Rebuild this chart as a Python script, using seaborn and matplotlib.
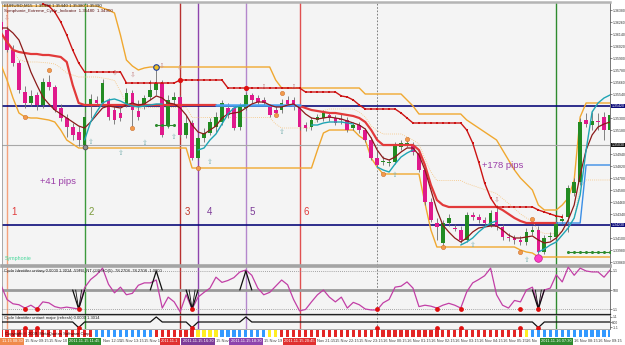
import numpy as np
import pandas as pd
import matplotlib
matplotlib.use("Agg")
import matplotlib.pyplot as plt
from matplotlib.transforms import blended_transform_factory
import seaborn as sns

sns.set_theme(style="white")
plt.rcParams['font.family'] = ['Liberation Sans', 'DejaVu Sans']

NA = np.nan
bars = list(range(-1, 102))

open_ = [1.3626, 1.3618, 1.3598, 1.3585, 1.3556, 1.3545, 1.3553, 1.3543, 1.3566, 1.3561,
         1.3540, 1.3530, 1.3521, 1.3516, 1.3503, 1.3542, 1.3548, 1.3545, 1.3548, 1.3538,
         1.3535, 1.3544, 1.3555, 1.3537, 1.3543, 1.3551, 1.3558, 1.3565, 1.3523, 1.3548,
         1.3551, 1.3513, 1.3525, 1.3490, 1.3510, 1.3515, 1.3521, 1.3526, 1.3540, 1.3540,
         1.3521, 1.3540, 1.3553, 1.3550, 1.3548, 1.3541, 1.3538, 1.3538, 1.3548, 1.3548,
         1.3541, 1.3523, 1.3521, 1.3528, 1.3530, 1.3533, 1.3530, 1.3529, 1.3528, 1.3520,
         1.3523, 1.3518, 1.3508, 1.3490, 1.3486, 1.3485, 1.3486, 1.3501, 1.3503, 1.3503,
         1.3495, 1.3478, 1.3446, 1.3425, 1.3405, 1.3425, 1.3420, 1.3418, 1.3408, 1.3433,
         1.3431, 1.3428, 1.3423, 1.3436, 1.3421, 1.3411, 1.3410, 1.3408, 1.3406, 1.3416,
         1.3418, 1.3396, 1.3411, 1.3411, 1.3427, 1.3431, 1.3455, 1.3466, 1.3528, 1.3523,
         1.3527, 1.3531, 1.3518]
close = [1.3618, 1.3598, 1.3585, 1.3558, 1.3545, 1.3552, 1.3543, 1.3566, 1.3561, 1.3538,
         1.3530, 1.3521, 1.3513, 1.3508, 1.3531, 1.3549, 1.3545, 1.3565, 1.3531, 1.3528,
         1.3530, 1.3555, 1.3538, 1.3531, 1.3550, 1.3558, 1.3565, 1.3513, 1.3548, 1.3551,
         1.3513, 1.3525, 1.3490, 1.3510, 1.3515, 1.3526, 1.3531, 1.3545, 1.3533, 1.3520,
         1.3541, 1.3553, 1.3548, 1.3546, 1.3545, 1.3533, 1.3535, 1.3545, 1.3544, 1.3541,
         1.3521, 1.3520, 1.3528, 1.3531, 1.3535, 1.3530, 1.3525, 1.3528, 1.3518, 1.3523,
         1.3518, 1.3508, 1.3490, 1.3483, 1.3487, 1.3486, 1.3503, 1.3505, 1.3505, 1.3496,
         1.3478, 1.3446, 1.3428, 1.3421, 1.3425, 1.3430, 1.3419, 1.3408, 1.3433, 1.3431,
         1.3428, 1.3425, 1.3435, 1.3421, 1.3411, 1.3410, 1.3408, 1.3406, 1.3416, 1.3418,
         1.3396, 1.3410, 1.3412, 1.3426, 1.3429, 1.3460, 1.3466, 1.3526, 1.3524, 1.3527,
         1.3526, 1.3518, 1.3533]
high = [1.3635, 1.3622, 1.3603, 1.3588, 1.3562, 1.3558, 1.3556, 1.3570, 1.3573, 1.3563,
        1.3544, 1.3534, 1.3525, 1.3522, 1.3536, 1.3554, 1.3552, 1.3569, 1.3550, 1.3542,
        1.3540, 1.3560, 1.3558, 1.3548, 1.3553, 1.3568, 1.3580, 1.3568, 1.3553, 1.3556,
        1.3553, 1.3533, 1.3528, 1.3513, 1.3520, 1.3530, 1.3536, 1.3548, 1.3545, 1.3543,
        1.3545, 1.3556, 1.3555, 1.3553, 1.3551, 1.3544, 1.3542, 1.3549, 1.3552, 1.3551,
        1.3544, 1.3526, 1.3531, 1.3534, 1.3538, 1.3536, 1.3533, 1.3534, 1.3531, 1.3526,
        1.3526, 1.3520, 1.3511, 1.3498, 1.3492, 1.3489, 1.3506, 1.3508, 1.3508, 1.3506,
        1.3498, 1.3480, 1.3450, 1.3430, 1.3428, 1.3434, 1.3424, 1.3422, 1.3436, 1.3436,
        1.3434, 1.3431, 1.3438, 1.3443, 1.3424, 1.3415, 1.3413, 1.3412, 1.3420, 1.3422,
        1.3422, 1.3413, 1.3416, 1.3430, 1.3434, 1.3463, 1.3470, 1.3530, 1.3535, 1.3536,
        1.3535, 1.3536, 1.3538]
low = [1.3616, 1.3596, 1.3582, 1.3555, 1.3540, 1.3542, 1.3538, 1.3540, 1.3558, 1.3536,
       1.3527, 1.3511, 1.3508, 1.3502, 1.3500, 1.3530, 1.3542, 1.3542, 1.3528, 1.3524,
       1.3527, 1.3541, 1.3522, 1.3528, 1.3539, 1.3548, 1.3553, 1.3511, 1.3520, 1.3544,
       1.3511, 1.3510, 1.3488, 1.3488, 1.3506, 1.3513, 1.3516, 1.3523, 1.3530, 1.3518,
       1.3518, 1.3538, 1.3545, 1.3544, 1.3542, 1.3531, 1.3532, 1.3535, 1.3542, 1.3538,
       1.3518, 1.3517, 1.3518, 1.3526, 1.3527, 1.3527, 1.3523, 1.3524, 1.3516, 1.3518,
       1.3515, 1.3506, 1.3488, 1.3481, 1.3483, 1.3482, 1.3484, 1.3498, 1.3501, 1.3493,
       1.3476, 1.3443, 1.3426, 1.3408, 1.3401, 1.3422, 1.3417, 1.3405, 1.3406, 1.3428,
       1.3425, 1.3422, 1.3421, 1.3418, 1.3408, 1.3407, 1.3404, 1.3403, 1.3403, 1.3413,
       1.3394, 1.3394, 1.3408, 1.3408, 1.3424, 1.3416, 1.3452, 1.3463, 1.3521, 1.3518,
       1.3518, 1.3508, 1.3515]

upper_band = ([1.3642] * 17 + [1.3640, 1.3638, 1.3635, 1.3613, 1.3588, 1.3582, 1.3578, 1.3580]
              + [1.3581] * 21 + [1.3568] + [1.3560] * 14 + [1.3554] * 7 + [1.3548, 1.3542]
              + [1.3534] * 8
              + [1.3528, 1.3524, 1.3520, 1.3516, 1.3512, 1.3508, 1.3498, 1.3488, 1.3478, 1.3470,
                 1.3464, 1.3458, 1.3443, 1.3438, 1.3438, 1.3438, 1.3443, 1.3450, 1.3468, 1.3531]
              + [1.3545] * 5)
lower_band = ([1.3583, 1.3568, 1.3550, 1.3535, 1.3531, 1.3530, 1.3530, 1.3529, 1.3528, 1.3526,
               1.3518, 1.3508, 1.3504] + [1.3500] * 19 + [1.3480] * 21 + [1.3498, 1.3515]
              + [1.3518] * 5 + [1.3512, 1.3508, 1.3490, 1.3481] + [1.3474] * 7 + [1.3445, 1.3418]
              + [1.3401] * 14 + [1.3398, 1.3396, 1.3395] + [1.3391] * 13)
red_stop = ([NA] * 7 + [1.3644, 1.3642, 1.3636, 1.3626, 1.3613, 1.3598, 1.3585] + [1.3576] * 7
            + [1.3565] * 9 + [1.3568] * 8 + [1.3560] * 13 + [1.3556] * 6
            + [1.3552, 1.3551, 1.3548, 1.3543] + [1.3539] * 6 + [1.3535, 1.3530] + [1.3525] * 9
            + [1.3518, 1.3505, 1.3486, 1.3465, 1.3450] + [1.3441] * 7
            + [1.3438, 1.3436, 1.3434, 1.3432, 1.3431] + [NA] * 8)
symph_red = ([1.3615, 1.3606, 1.3598, 1.3596, 1.3595, 1.3594, 1.3594, 1.3593, 1.3593, 1.3592,
              1.3591, 1.3586, 1.3563, 1.3545] + [1.3543] * 23 + [NA] * 13
             + [1.3542, 1.3540, 1.3538, 1.3537, 1.3536, 1.3535, 1.3535, 1.3534, 1.3533, 1.3532,
                1.3530, 1.3526, 1.3518, 1.3508] + [1.3503] * 6
             + [1.3498, 1.3483, 1.3463, 1.3448, 1.3443] + [1.3441] * 9
             + [1.3438, 1.3434, 1.3430, 1.3427] + [1.3425] * 6 + [NA] * 9)
symph_blue = [NA] * 36 + [1.3543] * 15 + [NA] * 52
blue_right = [NA] * 93 + [1.3425] * 5 + [1.3483] * 5
maroon_ma = [1.3620, 1.3620, 1.3615, 1.3608, 1.3593, 1.3576, 1.3563, 1.3551, 1.3544, 1.3538,
             1.3534, 1.3530, 1.3526, 1.3522, 1.3520, 1.3526, 1.3533, 1.3540, 1.3542, 1.3541,
             1.3540, 1.3543, 1.3545, 1.3543, 1.3544, 1.3548, 1.3552, 1.3550, 1.3545, 1.3544,
             1.3540, 1.3533, 1.3523, 1.3516, 1.3514, 1.3518, 1.3522, 1.3530, 1.3534, 1.3535,
             1.3536, 1.3540, 1.3544, 1.3546, 1.3546, 1.3543, 1.3541, 1.3541, 1.3543, 1.3544,
             1.3540, 1.3534, 1.3530, 1.3529, 1.3530, 1.3531, 1.3530, 1.3529, 1.3527, 1.3525,
             1.3523, 1.3519, 1.3510, 1.3498, 1.3490, 1.3488, 1.3491, 1.3496, 1.3500, 1.3500,
             1.3493, 1.3478, 1.3458, 1.3438, 1.3423, 1.3416, 1.3410, 1.3406, 1.3410, 1.3416,
             1.3420, 1.3421, 1.3422, 1.3422, 1.3418, 1.3413, 1.3410, 1.3410, 1.3411, 1.3412,
             1.3408, 1.3405, 1.3406, 1.3410, 1.3417, 1.3428, 1.3443, 1.3473, 1.3498, 1.3513,
             1.3521, 1.3524, 1.3526]
cyan_line = ([NA] * 14
             + [1.3508, 1.3526, 1.3536, 1.3545, 1.3548, 1.3549, 1.3547, 1.3544, 1.3542, 1.3541,
                1.3542, 1.3543, 1.3544, 1.3544]
             + [NA] * 5
             + [1.3498, 1.3500, 1.3508, 1.3514, 1.3524, 1.3534, 1.3540, 1.3542, 1.3543]
             + [NA] * 10
             + [1.3523, 1.3523, 1.3525, 1.3526, 1.3526, 1.3526, 1.3525, 1.3524]
             + [NA] * 3
             + [1.3481, 1.3478, 1.3476, 1.3484, 1.3491, 1.3495, 1.3498]
             + [NA] * 7
             + [1.3403, 1.3406, 1.3410, 1.3416, 1.3421, 1.3425, 1.3427]
             + [NA] * 6
             + [1.3396, 1.3399, 1.3403, 1.3406, 1.3413, 1.3420, 1.3430, 1.3453, 1.3498, 1.3536,
                1.3545, 1.3550, 1.3553])

oscillator = [60, 30, 21, 19, 12, 18, 10, 25, 23, 15,
              12, 14, 12, 10, 55, 72, 82, 96, 62, 44,
              56, 40, 43, 60, 65, 65, 71, 12, 35, 25,
              4, 40, 10, 35, 45, 54, 77, 66, 70, 76,
              88, 92, 81, 54, 40, 45, 58, 71, 61, 30,
              6, 9, 25, 40, 50, 35, 25, 35, 12, 24,
              19, 10, 8, 8, 23, 30, 56, 58, 67, 54,
              15, 18, 16, 12, 18, 22, 18, 12, 46, 65,
              72, 80, 96, 40, 18, 12, 28, 25, 50, 56,
              14, 50, 54, 82, 67, 98, 81, 96, 90, 88,
              88, 77, 92]
signal_dot_bars = [3, 5, 12, 31, 62, 72, 76, 86, 89]
peak_bars = [25, 40]
dip_bars = [12, 31, 89]

strip_colors = ("r" * 16 + "b" * 10 + "r" * 7 + "y" * 4 + "b" * 8 + "y" * 2
                + "r" * 41 + "y" + "b" * 14)

event_bars = [0, 13, 29, 32, 40, 49, 92]
# labels as they remain visible (first one clipped by the left edge, third one covered by the fourth)
event_labels = ["11.15 08:30", "2011.11.15 11:45", "2011.11.1", "2011.11.15 16:30",
                "2011.11.15 18:30", "2011.11.15 20:45", "2011.11.16 07:30"]
event_numbers = ["1", "2", "3", "4", "5", "6", ""]
day_sep_bar = 62

# time labels as they remain visible between the highlighted event boxes
time_ticks = [3, 7, 16, 19, 23, 35, 43, 52, 55, 59, 63, 67, 71, 75, 79, 83, 87, 95, 99]
time_labels = ["15 Nov 09:15", "15 Nov 10", "Nov 12:15", "15 Nov 13:15", "15 Nov 1",
               "15 Nov", "15 Nov 19", "Nov 21:15", "15 Nov 22:15", "15 Nov 23:15",
               "16 Nov 00:15", "16 Nov 01:15", "16 Nov 02:15", "16 Nov 03:15", "16 Nov 04:15",
               "16 Nov 05:15", "16 No", "16 Nov 08:15", "16 Nov 09:15"]
price_ticks = [1.3638, 1.3626, 1.3614, 1.3602, 1.3590, 1.3578, 1.3566, 1.3554, 1.3530, 1.3518,
               1.3494, 1.3482, 1.3470, 1.3458, 1.3446, 1.3434, 1.3410, 1.3398, 1.3386]
level_blue = [1.3542, 1.3423]
level_gray = 1.3503

up_arrow_bars = [14, 19, 23, 28, 34, 46, 65, 78, 87]
up_arrow_prices = [1.3506, 1.3495, 1.3505, 1.3511, 1.3486, 1.3516, 1.3473, 1.3403, 1.3388]
down_arrow_bars = [0, 18, 21, 26, 29, 43, 48, 82]
down_arrow_prices = [1.3630, 1.3575, 1.3573, 1.3582, 1.3580, 1.3561, 1.3561, 1.3448]
orange_dot_bars = [3, 7, 21, 32, 45, 46, 63, 67, 73, 86, 88]
orange_dot_prices = [1.3531, 1.3578, 1.3520, 1.3480, 1.3533, 1.3555, 1.3474, 1.3509, 1.3401,
                     1.3396, 1.3429]
red_dot_bars = [29, 40]
red_dot_prices = [1.3568, 1.3560]
green_dot_bars_a = [25, 26, 27, 28]
green_dot_price_a = 1.3523
green_dot_bars_b = [94, 95, 96, 97, 98, 99, 100, 101]
green_dot_price_b = 1.3396

pips_texts = ["+41 pips", "+178 pips"]
pips_bars = [8.5, 83]
pips_prices = [1.3467, 1.3483]

# ---------------------------------------------------------------- figure
W, H = 625, 345
fig = plt.figure(figsize=(W / 100, H / 100), dpi=100)
fig.patch.set_facecolor("white")


def rect(x0, y0, x1, y1):
    return [x0 / W, 1 - y1 / H, (x1 - x0) / W, (y1 - y0) / H]


ax = fig.add_axes(rect(2, 2, 610, 265))
ax_osc = fig.add_axes(rect(2, 266, 610, 314))
ax_p3 = fig.add_axes(rect(2, 315, 610, 329))
ax_strip = fig.add_axes(rect(2, 330, 610, 337))
XLIM = (-0.84, 101.0)
BG = "#f4f4f4"
TICK_FS = 2.5


def seg_line(axis, x, y, **kw):
    x = np.asarray(x, float)
    y = np.asarray(y, float)
    idx = np.flatnonzero(~np.isnan(y))
    if len(idx) == 0:
        return
    for s in np.split(idx, np.flatnonzero(np.diff(idx) > 1) + 1):
        if len(s) < 2:
            continue
        sns.lineplot(x=x[s], y=y[s], ax=axis, estimator=None, sort=False, legend=False, **kw)


ev_colors = ["#f4a27c", "#3c9a3c", "#b8312f", "#8e44ad", "#b487cc", "#e05050", "#2e8b2e"]
box_colors = ["#f08a4b", "#2e8b2e", "#e03030", "#7d3c98", "#8e44ad", "#e03030", "#2e8b2e"]
num_colors = ["#e03c3c", "#7a9a3a", "#c0392b", "#7d3c98", "#7d3c98", "#e03c3c", "#000000"]

# ---------------------------------------------------------------- main panel
ax.set_facecolor(BG)
for lv in level_blue:
    ax.axhline(lv, color="#0b0b7a", lw=1.2, zorder=2)
ax.axhline(level_gray, color="#a8a8a8", lw=0.8, zorder=2)
for a in (ax, ax_osc, ax_p3):
    for b, c in zip(event_bars, ev_colors):
        a.axvline(b, color=c, lw=1.0, zorder=1.5)
    a.axvline(day_sep_bar, color="#6a6a6a", lw=0.6, ls=(0, (2, 2)), zorder=1.5)

df = pd.DataFrame(dict(bar=bars, open=open_, high=high, low=low, close=close))
mid_band = (np.array(upper_band) + np.array(lower_band)) / 2

seg_line(ax, bars, upper_band, color="#f0a830", linewidth=1.0, zorder=3)
seg_line(ax, bars, lower_band, color="#f0a830", linewidth=1.0, zorder=3)
seg_line(ax, bars, mid_band, color="#f5c27a", linewidth=0.6, linestyle=(0, (1, 1.5)), zorder=3)

up = df["close"] >= df["open"]
ax.vlines(df["bar"], df["low"], df["high"], color="#6e6e6e", lw=0.6, zorder=4)
body_bottom = np.minimum(df["open"], df["close"])
body_h = np.maximum(np.abs(df["close"] - df["open"]), 0.00009)
ax.bar(df["bar"], body_h, bottom=body_bottom, width=0.62,
       color=np.where(up, "#228b22", "#e0198c"), linewidth=0, zorder=5)

seg_line(ax, bars, symph_red, color="#e23a3a", linewidth=1.6, zorder=6)
seg_line(ax, bars, symph_blue, color="#4aa0f0", linewidth=1.8, zorder=6)
seg_line(ax, bars, blue_right, color="#3a8ee6", linewidth=1.0, zorder=6)
seg_line(ax, bars, maroon_ma, color="#8b1a1a", linewidth=0.9, zorder=6)
seg_line(ax, bars, cyan_line, color="#1fa5b5", linewidth=1.0, zorder=6)
seg_line(ax, bars, red_stop, color="#cc1414", linewidth=1.0, marker="s", markersize=1.6,
         markeredgewidth=0, zorder=7)

ax.scatter(red_dot_bars, red_dot_prices, s=14, color="#e01010", zorder=8, linewidths=0)
ax.scatter(orange_dot_bars, orange_dot_prices, s=10, color="#f29a4a", edgecolors="#c06020",
           linewidths=0.3, zorder=8)
ax.scatter([25], [1.3581], s=16, color="#f0c020", edgecolors="#2040a0", linewidths=0.8, zorder=8)
ax.scatter([13], [1.3501], s=12, color="#909090", edgecolors="#404040", linewidths=0.5, zorder=8)
ax.scatter([89], [1.3390], s=30, color="#ff3fc8", edgecolors="#c01890", linewidths=0.5, zorder=8)
seg_line(ax, green_dot_bars_a, [green_dot_price_a] * len(green_dot_bars_a), color="#2e8b2e",
         linewidth=0.8, marker="o", markersize=2.2, markeredgewidth=0, zorder=8)
seg_line(ax, green_dot_bars_b, [green_dot_price_b] * len(green_dot_bars_b), color="#2e8b2e",
         linewidth=0.8, marker="o", markersize=2.2, markeredgewidth=0, zorder=8)

for b, p in zip(up_arrow_bars, up_arrow_prices):
    ax.text(b, p, "\u21e7", fontsize=5, color="#7fb3b3", ha="center", va="center",
            family="DejaVu Sans", zorder=9)
for b, p in zip(down_arrow_bars, down_arrow_prices):
    ax.text(b, p, "\u21e9", fontsize=5, color="#c88f8f", ha="center", va="center",
            family="DejaVu Sans", zorder=9)

for t, b, p in zip(pips_texts, pips_bars, pips_prices):
    ax.text(b, p, t, fontsize=6.8, color="#9b3fa8", ha="center", va="center", zorder=9)
for b, n, c in zip(event_bars, event_numbers, num_colors):
    if n:
        ax.annotate(n, xy=(b, 1.3436), xytext=(3 if n != "4" else 6, 0),
                    textcoords="offset points", fontsize=7, color=c, ha="left", va="center",
                    zorder=9)

ax.text(0.004, 0.994, "EURUSD,M15  1.35430 1.35440 1.35380 1.35390", transform=ax.transAxes,
        fontsize=3.2, color="#202020", va="top", ha="left", zorder=10)
ax.text(0.004, 0.972, "Symphonie_Extreme_Cycle_Indicator  1.35480  1.34900",
        transform=ax.transAxes, fontsize=3.2, color="#5a1010", va="top", ha="left", zorder=10)
ax.text(0.005, 0.025, "Symphonie", transform=ax.transAxes, fontsize=3.8, color="#45d89a",
        va="center", ha="left", zorder=10)

ax.set_xlim(*XLIM)
ax.set_ylim(1.3383, 1.3646)
ax.set_xticks([])
ax.yaxis.tick_right()
ax.set_yticks(price_ticks)
ax.set_yticklabels([f"{p:.5f}" for p in price_ticks])
ax.tick_params(axis="y", length=1.2, width=0.4, pad=0.5, labelsize=TICK_FS, colors="#303030")
ax.set_xlabel("")
ax.set_ylabel("")
tr = blended_transform_factory(ax.transAxes, ax.transData)
for lv, fc in ((level_blue[0], "#0b0b7a"), (level_gray, "#111111"), (level_blue[1], "#0b0b7a")):
    ax.text(1.0025, lv, f"{lv:.5f}", transform=tr, fontsize=TICK_FS, color="white",
            va="center", ha="left", clip_on=False, zorder=11,
            bbox=dict(boxstyle="square,pad=0.12", fc=fc, ec="none"))
for side, sp in ax.spines.items():
    sp.set_linewidth(0.5)
    sp.set_color("#8a8a8a")
ax.spines["top"].set_linewidth(1.8)
ax.spines["top"].set_color("#b4b4b4")
ax.spines["bottom"].set_visible(False)
ax.spines["right"].set_color("#404040")

# ---------------------------------------------------------------- oscillator panel
ax_osc.set_facecolor(BG)
ax_osc.axhline(90, color="#8a8a8a", lw=0.6, ls=(0, (1, 1.5)), zorder=2)
ax_osc.axhline(50, color="#9a9a9a", lw=2.0, zorder=2)
ax_osc.axhline(10, color="#8a8a8a", lw=0.6, ls=(0, (1, 1.5)), zorder=2)
seg_line(ax_osc, bars, oscillator, color="#c23fa6", linewidth=0.9, zorder=4)
for b in dip_bars:
    seg_line(ax_osc, [b - 1, b, b + 1], [50, 10, 50], color="#111111", linewidth=0.9, zorder=5)
    seg_line(ax_osc, [b - 0.5, b, b + 0.5], [50, 10, 50], color="#111111", linewidth=0.6,
             zorder=5)
for b in peak_bars:
    seg_line(ax_osc, [b - 1, b, b + 1], [50, 90, 50], color="#111111", linewidth=0.9, zorder=5)
ax_osc.scatter(signal_dot_bars, [10] * len(signal_dot_bars), s=12, color="#e01010", zorder=6,
               linewidths=0)
ax_osc.text(0.004, 0.9, "Cycle Identifier unitary 0.0000 1.3014 -59FB_NT (24) HO(5) -78.2708 -78.2708 -1.0000",
            transform=ax_osc.transAxes, fontsize=3.0, color="#202020", va="center", zorder=7)
ax_osc.set_xlim(*XLIM)
ax_osc.set_ylim(-0.5, 100.5)
ax_osc.set_xticks([])
ax_osc.yaxis.tick_right()
ax_osc.set_yticks([90, 50, 10])
ax_osc.set_yticklabels(["1.1", "500", "1.1"])
ax_osc.tick_params(axis="y", length=1.2, width=0.4, pad=0.5, labelsize=TICK_FS, colors="#303030")
for sp in ax_osc.spines.values():
    sp.set_linewidth(0.5)
    sp.set_color("#8a8a8a")
ax_osc.spines["top"].set_linewidth(2.6)
ax_osc.spines["top"].set_color("#a4a4a4")
ax_osc.spines["bottom"].set_linewidth(0.9)
ax_osc.spines["bottom"].set_color("#202020")
ax_osc.spines["right"].set_color("#404040")

# ---------------------------------------------------------------- cycle major panel
ax_p3.set_facecolor(BG)
p3_line = np.full(len(bars), 0.5)
for b in peak_bars:
    p3_line[bars.index(b)] = 0.86
for b in dip_bars:
    p3_line[bars.index(b)] = 0.1
seg_line(ax_p3, bars, p3_line, color="#111111", linewidth=0.9, zorder=4)
ax_p3.scatter(signal_dot_bars, [0.1] * len(signal_dot_bars), s=12, color="#e01010", zorder=6,
              linewidths=0)
ax_p3.text(0.004, 0.78, "Cycle Identifier unitaré major (refresh) 0.0000 1.3014",
           transform=ax_p3.transAxes, fontsize=3.0, color="#202020", va="center", zorder=7)
ax_p3.set_xlim(*XLIM)
ax_p3.set_ylim(0, 1)
ax_p3.set_xticks([])
ax_p3.yaxis.tick_right()
ax_p3.set_yticks([0.86, 0.5, 0.14])
ax_p3.set_yticklabels(["1.1", "0.00", "-1.1"])
ax_p3.tick_params(axis="y", length=1.2, width=0.4, pad=0.5, labelsize=2.3, colors="#303030")
for sp in ax_p3.spines.values():
    sp.set_linewidth(0.5)
    sp.set_color("#8a8a8a")
ax_p3.spines["right"].set_color("#404040")

# ---------------------------------------------------------------- colour strip
cmap = {"r": "#e32626", "b": "#3399ff", "y": "#ffee22"}
ax_strip.set_facecolor("white")
ax_strip.bar(bars, 1, width=0.55, bottom=0, color=[cmap[c] for c in strip_colors], linewidth=0)
ax_strip.text(0.005, 0.5, "Copyright \u00a9 2009, MetaQuotes Software Corp.",
              transform=ax_strip.transAxes, fontsize=3.0, color="#3a0000", va="center",
              ha="left", zorder=5)
ax_strip.set_xlim(*XLIM)
ax_strip.set_ylim(0, 1)
ax_strip.set_xticks([])
ax_strip.set_yticks([])
for sp in ax_strip.spines.values():
    sp.set_visible(False)

# ---------------------------------------------------------------- time axis
tt = blended_transform_factory(ax_strip.transData, fig.transFigure)
ty = 1 - 341.5 / H
for b, lab in zip(time_ticks, time_labels):
    fig.text(b, ty, lab, transform=tt, fontsize=2.9, color="#404040", ha="left", va="center")
box_kw = dict(fontsize=2.9, color="white", va="center", zorder=5)
for i, (b, lab, c) in enumerate(zip(event_bars, event_labels, box_colors)):
    bb = dict(boxstyle="square,pad=0.35", fc=c, ec="none")
    if i == 0:
        fig.text(0.003, ty, lab, ha="left", bbox=bb, **box_kw)
    elif i == 2:
        ax_strip.annotate(lab, xy=(b, ty), xycoords=tt, xytext=(-1.2, 0),
                          textcoords="offset points", ha="right", bbox=bb,
                          annotation_clip=False, **box_kw)
    else:
        fig.text(b, ty, lab, transform=tt, ha="center", bbox=bb, **box_kw)

fig.savefig("out.png", dpi=100, facecolor="white")
